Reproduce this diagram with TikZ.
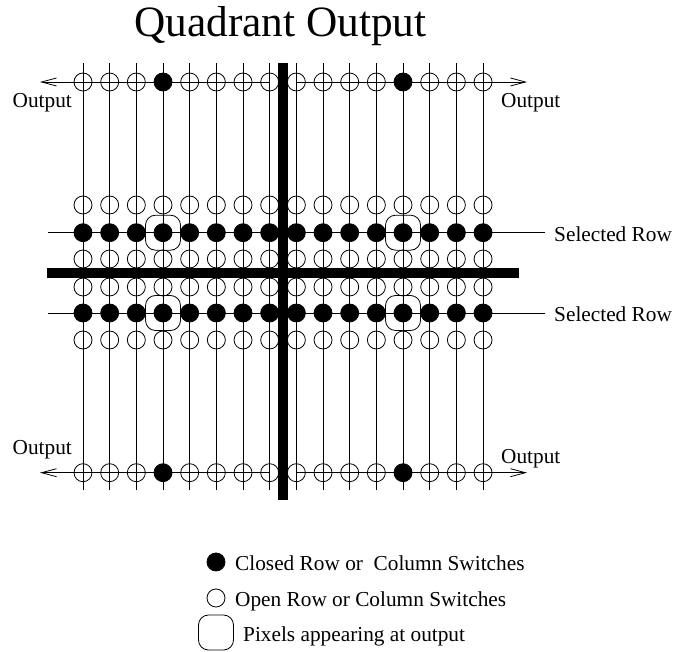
\documentclass[tikz,border=0pt]{standalone}
\usepackage{fontspec}
\setmainfont{Liberation Serif}
\usetikzlibrary{arrows.meta}
\tikzset{
	wire/.style={line width=0.8pt},
	barbL/.style={wire, arrows={Straight Barb[length=15pt,width=8pt,line width=0.8pt]-}},
	barbR/.style={wire, arrows={-Straight Barb[length=15pt,width=8pt,line width=0.8pt]}},
	bar/.style={line width=10pt},
	openSw/.style={circle, draw, line width=0.8pt, minimum size=18pt, inner sep=0pt},
	closedSw/.style={openSw, fill=black},
	pixelBox/.style={rectangle, draw, line width=0.8pt, rounded corners=10pt, minimum size=35pt, inner sep=0pt},
	lbl/.style={inner sep=0pt, anchor=base west, font=\fontsize{21.3}{24}\selectfont},
}

\begin{document}
\begin{tikzpicture}[x=1pt, y=-1pt]
	\useasboundingbox (0,0) rectangle (673,652);

	\node[inner sep=0pt, anchor=base, font=\fontsize{43.3}{48}\selectfont] (title) at (280.5,37) {Quadrant Output};

	% column wires first, switches sit on top
	\foreach \c [evaluate=\c as \x using 83+26.67*\c] in {0,...,15} {
		\coordinate (top\c) at (\x,63.5);
		\coordinate (bot\c) at (\x,490);
		\draw[wire] (top\c) -- (bot\c);
	}

	\foreach \r/\y in {b/205,d/259,e/287,g/340} {
		\foreach \c [evaluate=\c as \x using 83+26.67*\c] in {0,...,15}
			\node[openSw] (\r\c) at (\x,\y) {};
	}
	\foreach \r/\y in {c/232.7,f/313} {
		\foreach \c [evaluate=\c as \x using 83+26.67*\c] in {0,...,15}
			\node[closedSw] (\r\c) at (\x,\y) {};
	}
	\foreach \r/\y in {a/82,h/472.7} {
		\foreach \c [evaluate=\c as \x using 83+26.67*\c] in {0,1,2,4,5,6,7,8,9,10,11,13,14,15}
			\node[openSw] (\r\c) at (\x,\y) {};
		\foreach \c [evaluate=\c as \x using 83+26.67*\c] in {3,12}
			\node[closedSw] (\r\c) at (\x,\y) {};
	}

	% row wires
	\coordinate (aL) at (40,82);
	\coordinate (aR) at (527,82);
	\coordinate (hL) at (40,472.7);
	\coordinate (hR) at (527,472.7);
	\coordinate (cL) at (48,232.7);
	\coordinate (cR) at (545,232.7);
	\coordinate (fL) at (48,313);
	\coordinate (fR) at (545,313);
	\draw[barbL] (aL) -- (a7.center);
	\draw[barbR] (a8.center) -- (aR);
	\draw[barbL] (hL) -- (h7.center);
	\draw[barbR] (h8.center) -- (hR);
	\draw[wire] (cL) -- (cR);
	\draw[wire] (fL) -- (fR);

	\node[pixelBox] (pixA) at (c3) {};
	\node[pixelBox] (pixB) at (c12) {};
	\node[pixelBox] (pixC) at (f3) {};
	\node[pixelBox] (pixD) at (f12) {};

	\coordinate (vTop) at (283,63);
	\coordinate (vBot) at (283,500);
	\coordinate (hLeft) at (47,273);
	\coordinate (hRight) at (519,273);
	\draw[bar] (vTop) -- (vBot);
	\draw[bar] (hLeft) -- (hRight);

	\node[lbl] (outA) at (12.5,108) {Output};
	\node[lbl] (outB) at (501,108) {Output};
	\node[lbl] (outC) at (12.5,455) {Output};
	\node[lbl] (outD) at (501,463.5) {Output};
	\node[lbl] (selA) at (554,241.7) {Selected Row};
	\node[lbl] (selB) at (554,321.7) {Selected Row};

	% legend
	\node[closedSw] (keyClosed) at (216,562) {};
	\node[openSw] (keyOpen) at (216,598) {};
	\node[pixelBox] (keyPix) at (216,632.5) {};
	\node[lbl] (txtClosed) at (235,570.7) {Closed Row or\ \ Column Switches};
	\node[lbl] (txtOpen) at (235,606) {Open Row or Column Switches};
	\node[lbl] (txtPix) at (243,641.7) {Pixels appearing at output};
\end{tikzpicture}
\end{document}
